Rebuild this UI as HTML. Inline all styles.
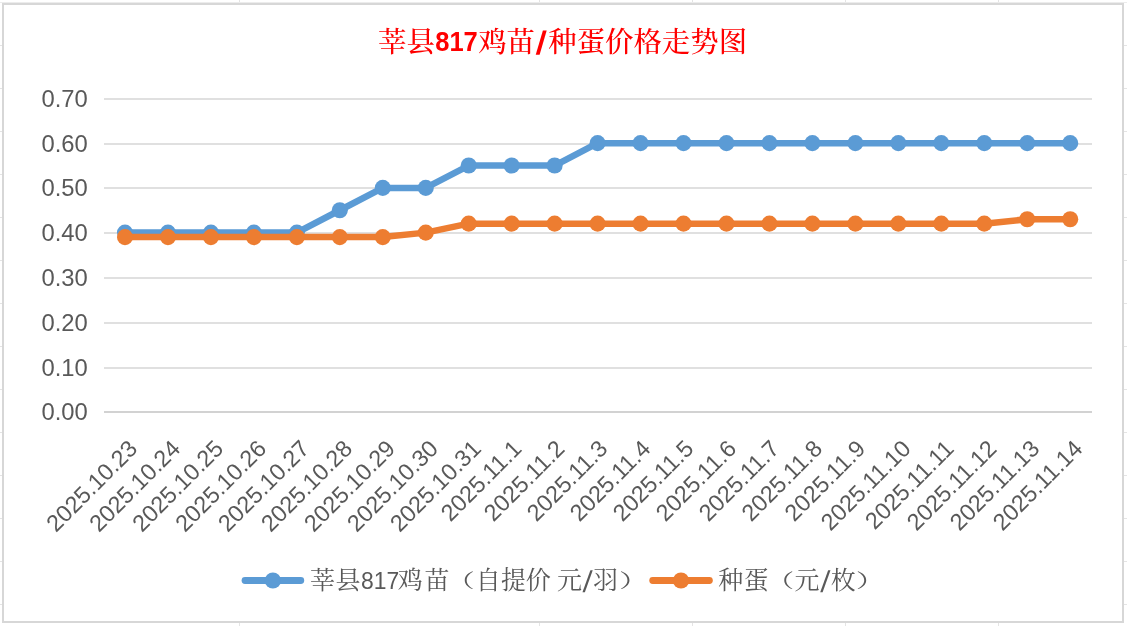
<!DOCTYPE html>
<html lang="zh-CN"><head><meta charset="utf-8"><title>莘县817鸡苗/种蛋价格走势图</title>
<style>html,body{margin:0;padding:0;background:#fff;}body{width:1127px;height:626px;overflow:hidden;}svg{display:block;}
.ax{font-family:"Liberation Sans",sans-serif;fill:#595959;}
.cjk{font-family:"Liberation Serif","Noto Serif CJK SC",serif;}
.num{font-family:"Liberation Sans",sans-serif;}
</style></head><body>
<svg width="1127" height="626" viewBox="0 0 1127 626">
<rect x="0" y="0" width="1127" height="626" fill="#ffffff"/>
<g fill="#e4e4e4" shape-rendering="crispEdges">
<rect x="0" y="45" width="2" height="1"/><rect x="1124" y="45" width="3" height="1"/>
<rect x="0" y="88" width="2" height="1"/><rect x="1124" y="88" width="3" height="1"/>
<rect x="0" y="131" width="2" height="1"/><rect x="1124" y="131" width="3" height="1"/>
<rect x="0" y="174" width="2" height="1"/><rect x="1124" y="174" width="3" height="1"/>
<rect x="0" y="217" width="2" height="1"/><rect x="1124" y="217" width="3" height="1"/>
<rect x="0" y="260" width="2" height="1"/><rect x="1124" y="260" width="3" height="1"/>
<rect x="0" y="303" width="2" height="1"/><rect x="1124" y="303" width="3" height="1"/>
<rect x="0" y="346" width="2" height="1"/><rect x="1124" y="346" width="3" height="1"/>
<rect x="0" y="389" width="2" height="1"/><rect x="1124" y="389" width="3" height="1"/>
<rect x="0" y="432" width="2" height="1"/><rect x="1124" y="432" width="3" height="1"/>
<rect x="0" y="475" width="2" height="1"/><rect x="1124" y="475" width="3" height="1"/>
<rect x="0" y="518" width="2" height="1"/><rect x="1124" y="518" width="3" height="1"/>
<rect x="0" y="561" width="2" height="1"/><rect x="1124" y="561" width="3" height="1"/>
<rect x="0" y="604" width="2" height="1"/><rect x="1124" y="604" width="3" height="1"/>
<rect x="239" y="0" width="1" height="3"/><rect x="239" y="623" width="1" height="3"/>
<rect x="539" y="0" width="1" height="3"/><rect x="539" y="623" width="1" height="3"/>
<rect x="692" y="0" width="1" height="3"/><rect x="692" y="623" width="1" height="3"/>
<rect x="845" y="0" width="1" height="3"/><rect x="845" y="623" width="1" height="3"/>
<rect x="998" y="0" width="1" height="3"/><rect x="998" y="623" width="1" height="3"/>
<rect x="0" y="2" width="1127" height="1" fill="#ececec"/>
</g>
<g fill="#d7d7d7" shape-rendering="crispEdges">
<rect x="2" y="3" width="1122" height="2"/>
<rect x="2" y="621" width="1122" height="2"/>
<rect x="2" y="3" width="2" height="620"/>
<rect x="1122" y="3" width="2" height="620"/>
</g>
<g fill="#e0e0e0" shape-rendering="crispEdges">
<rect x="104.0" y="367" width="988.0" height="2"/>
<rect x="104.0" y="322" width="988.0" height="2"/>
<rect x="104.0" y="277" width="988.0" height="2"/>
<rect x="104.0" y="232" width="988.0" height="2"/>
<rect x="104.0" y="187" width="988.0" height="2"/>
<rect x="104.0" y="143" width="988.0" height="2"/>
<rect x="104.0" y="98" width="988.0" height="2"/>
</g>
<rect x="104.0" y="411" width="988.0" height="2" fill="#d2d2d2" shape-rendering="crispEdges"/>
<g class="ax" font-size="23.80" text-anchor="end">
<text x="87.8" y="420.20">0.00</text>
<text x="87.8" y="376.20">0.10</text>
<text x="87.8" y="331.20">0.20</text>
<text x="87.8" y="286.20">0.30</text>
<text x="87.8" y="241.20">0.40</text>
<text x="87.8" y="196.20">0.50</text>
<text x="87.8" y="152.20">0.60</text>
<text x="87.8" y="107.20">0.70</text>
</g>
<g class="ax" font-size="23.40" text-anchor="end">
<text transform="translate(138.80,450.10) rotate(-45)">2025.10.23</text>
<text transform="translate(181.77,450.10) rotate(-45)">2025.10.24</text>
<text transform="translate(224.73,450.10) rotate(-45)">2025.10.25</text>
<text transform="translate(267.69,450.10) rotate(-45)">2025.10.26</text>
<text transform="translate(310.66,450.10) rotate(-45)">2025.10.27</text>
<text transform="translate(353.62,450.10) rotate(-45)">2025.10.28</text>
<text transform="translate(396.58,450.10) rotate(-45)">2025.10.29</text>
<text transform="translate(439.55,450.10) rotate(-45)">2025.10.30</text>
<text transform="translate(482.51,450.10) rotate(-45)">2025.10.31</text>
<text transform="translate(522.97,450.10) rotate(-45)">2025.11.1</text>
<text transform="translate(565.94,450.10) rotate(-45)">2025.11.2</text>
<text transform="translate(608.90,450.10) rotate(-45)">2025.11.3</text>
<text transform="translate(651.86,450.10) rotate(-45)">2025.11.4</text>
<text transform="translate(694.83,450.10) rotate(-45)">2025.11.5</text>
<text transform="translate(737.79,450.10) rotate(-45)">2025.11.6</text>
<text transform="translate(780.75,450.10) rotate(-45)">2025.11.7</text>
<text transform="translate(823.72,450.10) rotate(-45)">2025.11.8</text>
<text transform="translate(866.68,450.10) rotate(-45)">2025.11.9</text>
<text transform="translate(912.14,450.10) rotate(-45)">2025.11.10</text>
<text transform="translate(955.11,450.10) rotate(-45)">2025.11.11</text>
<text transform="translate(998.07,450.10) rotate(-45)">2025.11.12</text>
<text transform="translate(1041.03,450.10) rotate(-45)">2025.11.13</text>
<text transform="translate(1084.00,450.10) rotate(-45)">2025.11.14</text>
</g>
<polyline points="125.00,232.61 167.97,232.61 210.93,232.61 253.89,232.61 296.86,232.61 339.82,210.25 382.78,187.89 425.75,187.89 468.71,165.53 511.67,165.53 554.64,165.53 597.60,143.17 640.56,143.17 683.53,143.17 726.49,143.17 769.45,143.17 812.42,143.17 855.38,143.17 898.34,143.17 941.31,143.17 984.27,143.17 1027.23,143.17 1070.20,143.17" fill="none" stroke="#5b9bd5" stroke-width="6.5" stroke-linejoin="round" stroke-linecap="round"/>
<g fill="#5b9bd5">
<circle cx="125.00" cy="232.61" r="8.05"/>
<circle cx="167.97" cy="232.61" r="8.05"/>
<circle cx="210.93" cy="232.61" r="8.05"/>
<circle cx="253.89" cy="232.61" r="8.05"/>
<circle cx="296.86" cy="232.61" r="8.05"/>
<circle cx="339.82" cy="210.25" r="8.05"/>
<circle cx="382.78" cy="187.89" r="8.05"/>
<circle cx="425.75" cy="187.89" r="8.05"/>
<circle cx="468.71" cy="165.53" r="8.05"/>
<circle cx="511.67" cy="165.53" r="8.05"/>
<circle cx="554.64" cy="165.53" r="8.05"/>
<circle cx="597.60" cy="143.17" r="8.05"/>
<circle cx="640.56" cy="143.17" r="8.05"/>
<circle cx="683.53" cy="143.17" r="8.05"/>
<circle cx="726.49" cy="143.17" r="8.05"/>
<circle cx="769.45" cy="143.17" r="8.05"/>
<circle cx="812.42" cy="143.17" r="8.05"/>
<circle cx="855.38" cy="143.17" r="8.05"/>
<circle cx="898.34" cy="143.17" r="8.05"/>
<circle cx="941.31" cy="143.17" r="8.05"/>
<circle cx="984.27" cy="143.17" r="8.05"/>
<circle cx="1027.23" cy="143.17" r="8.05"/>
<circle cx="1070.20" cy="143.17" r="8.05"/>
</g>
<polyline points="125.00,237.09 167.97,237.09 210.93,237.09 253.89,237.09 296.86,237.09 339.82,237.09 382.78,237.09 425.75,232.61 468.71,223.67 511.67,223.67 554.64,223.67 597.60,223.67 640.56,223.67 683.53,223.67 726.49,223.67 769.45,223.67 812.42,223.67 855.38,223.67 898.34,223.67 941.31,223.67 984.27,223.67 1027.23,219.20 1070.20,219.20" fill="none" stroke="#ed7d31" stroke-width="6.5" stroke-linejoin="round" stroke-linecap="round"/>
<g fill="#ed7d31">
<circle cx="125.00" cy="237.09" r="8.05"/>
<circle cx="167.97" cy="237.09" r="8.05"/>
<circle cx="210.93" cy="237.09" r="8.05"/>
<circle cx="253.89" cy="237.09" r="8.05"/>
<circle cx="296.86" cy="237.09" r="8.05"/>
<circle cx="339.82" cy="237.09" r="8.05"/>
<circle cx="382.78" cy="237.09" r="8.05"/>
<circle cx="425.75" cy="232.61" r="8.05"/>
<circle cx="468.71" cy="223.67" r="8.05"/>
<circle cx="511.67" cy="223.67" r="8.05"/>
<circle cx="554.64" cy="223.67" r="8.05"/>
<circle cx="597.60" cy="223.67" r="8.05"/>
<circle cx="640.56" cy="223.67" r="8.05"/>
<circle cx="683.53" cy="223.67" r="8.05"/>
<circle cx="726.49" cy="223.67" r="8.05"/>
<circle cx="769.45" cy="223.67" r="8.05"/>
<circle cx="812.42" cy="223.67" r="8.05"/>
<circle cx="855.38" cy="223.67" r="8.05"/>
<circle cx="898.34" cy="223.67" r="8.05"/>
<circle cx="941.31" cy="223.67" r="8.05"/>
<circle cx="984.27" cy="223.67" r="8.05"/>
<circle cx="1027.23" cy="219.20" r="8.05"/>
<circle cx="1070.20" cy="219.20" r="8.05"/>
</g>
<g fill="#ff0000" font-weight="500" font-size="28.40">
<text class="cjk" x="378" y="52.2">莘县</text>
<text class="num" x="435.2" y="51.4" font-size="26.90" font-weight="bold" textLength="42.6" lengthAdjust="spacingAndGlyphs">817</text>
<text class="cjk" x="478.2" y="52.2">鸡苗</text>
<text class="num" transform="translate(535.6,54.4) skewX(-6)" font-size="32.5" font-weight="bold">/</text>
<text class="cjk" x="548.3" y="52.2">种蛋价格走势图</text>
</g>
<g stroke-width="6.8" stroke-linecap="round">
<line x1="245" y1="580.5" x2="300.8" y2="580.5" stroke="#5b9bd5"/>
<line x1="652.7" y1="580.5" x2="709.4" y2="580.5" stroke="#ed7d31"/>
</g>
<circle cx="272.9" cy="580.5" r="8.1" fill="#5b9bd5"/>
<circle cx="681" cy="580.5" r="8.1" fill="#ed7d31"/>
<g fill="#595959" font-size="25.00">
<text class="cjk" y="589.0" x="309.9 335.4">莘县</text>
<text class="num" x="361.0" y="588.7" font-size="24.30" textLength="38.2" lengthAdjust="spacingAndGlyphs">817</text>
<text class="cjk" y="589.0" x="397.7 424.4">鸡苗</text>
<text class="cjk" transform="translate(446.3,588) scale(1.14,0.76)">（</text>
<text class="cjk" y="589.0" x="475.8 501.1 525.8">自提价</text>
<text class="cjk" y="589.0" x="556.9">元</text>
<text class="num" transform="translate(582.6,591.6) skewX(-5)" font-size="30">/</text>
<text class="cjk" y="589.0" x="593.0">羽</text>
<text class="cjk" transform="translate(618.9,588) scale(1.20,0.76)">）</text>
<text class="cjk" y="589.0" x="718.2 743.8">种蛋</text>
<text class="cjk" transform="translate(765.7,588) scale(1.14,0.76)">（</text>
<text class="cjk" y="589.0" x="794.5">元</text>
<text class="num" transform="translate(820.2,591.6) skewX(-5)" font-size="30">/</text>
<text class="cjk" y="589.0" x="830.8">枚</text>
<text class="cjk" transform="translate(855.7,588) scale(1.20,0.76)">）</text>
</g>
</svg></body></html>
